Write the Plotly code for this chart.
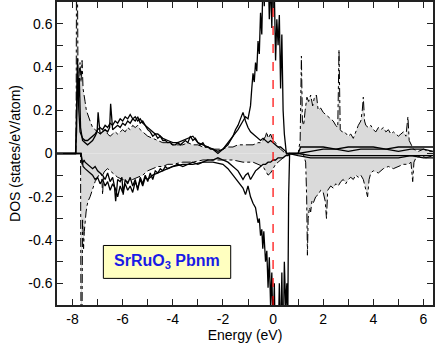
import plotly.graph_objects as go

# spin-up, gray filled (dash-dot outline)
e_fill_up = [-8.62, -7.86, -7.84, -7.81, -7.78, -7.74, -7.7, -7.66, -7.62, -7.58,
             -7.54, -7.5, -7.45, -7.4, -7.3, -7.2, -7.1, -7.0, -6.9, -6.8,
             -6.7, -6.6, -6.5, -6.4, -6.3, -6.2, -6.1, -6.0, -5.9, -5.8,
             -5.7, -5.6, -5.5, -5.4, -5.3, -5.2, -5.1, -5.0, -4.8, -4.6,
             -4.4, -4.2, -4.0, -3.8, -3.6, -3.4, -3.2, -3.0, -2.8, -2.6,
             -2.4, -2.2, -2.0, -1.8, -1.6, -1.4, -1.2, -1.0, -0.8, -0.6,
             -0.5, -0.4, -0.3, -0.25, -0.2, -0.1, 0.0, 0.1, 0.2, 0.3,
             0.4, 0.5, 0.55, 1.0, 1.08, 1.13, 1.17, 1.22, 1.28, 1.35,
             1.42, 1.5, 1.58, 1.65, 1.73, 1.8, 1.9, 2.0, 2.1, 2.2,
             2.3, 2.4, 2.5, 2.58, 2.63, 2.68, 2.75, 2.85, 3.0, 3.1,
             3.2, 3.3, 3.4, 3.5, 3.56, 3.6, 3.65, 3.7, 3.8, 3.9,
             4.0, 4.1, 4.2, 4.3, 4.4, 4.5, 4.6, 4.7, 4.8, 4.9,
             5.0, 5.1, 5.2, 5.3, 5.38, 5.43, 5.5, 5.6, 5.8, 6.0,
             6.2, 6.38]
dos_fill_up = [0, 0, 0.95, 0.95, 0.3, 0.36, 0.42, 0.33, 0.43, 0.3,
               0.26, 0.24, 0.2, 0.18, 0.15, 0.12, 0.11, 0.1, 0.09, 0.1,
               0.11, 0.09, 0.08, 0.09, 0.1, 0.09, 0.1, 0.11, 0.1, 0.12,
               0.11, 0.13, 0.12, 0.13, 0.11, 0.1, 0.09, 0.08, 0.07, 0.06,
               0.05, 0.05, 0.04, 0.04, 0.04, 0.05, 0.04, 0.04, 0.03, 0.03,
               0.02, 0.02, 0.02, 0.03, 0.03, 0.04, 0.04, 0.04, 0.04, 0.05,
               0.05, 0.06, 0.08, 0.1, 0.07, 0.09, 0.06, 0.05, 0.03, 0.02,
               0.01, 0.0, 0.0, 0.0, 0.06, 0.45, 0.15, 0.13, 0.2, 0.26,
               0.24, 0.27, 0.22, 0.26, 0.27, 0.2, 0.21, 0.19, 0.18, 0.17,
               0.16, 0.15, 0.13, 0.12, 0.48, 0.11, 0.1, 0.1, 0.08, 0.09,
               0.07, 0.1, 0.13, 0.15, 0.2, 0.26, 0.15, 0.13, 0.12, 0.13,
               0.11, 0.1, 0.12, 0.11, 0.12, 0.1, 0.11, 0.09, 0.1, 0.09,
               0.08, 0.09, 0.1, 0.08, 0.17, 0.06, 0.04, 0.02, 0.01, 0.02,
               0.01, 0.01]

# spin-down, gray filled (dash-dot outline)
e_fill_dn = [-8.62, -7.68, -7.66, -7.63, -7.6, -7.56, -7.53, -7.5, -7.46, -7.42,
             -7.38, -7.3, -7.2, -7.1, -7.0, -6.9, -6.84, -6.8, -6.76, -6.7,
             -6.6, -6.5, -6.4, -6.3, -6.2, -6.0, -5.8, -5.6, -5.4, -5.2,
             -5.0, -4.8, -4.6, -4.4, -4.2, -4.0, -3.6, -3.2, -2.8, -2.4,
             -2.0, -1.6, -1.2, -0.8, -0.6, -0.4, -0.3, -0.2, -0.1, 0.0,
             0.1, 0.2, 0.3, 0.4, 0.5, 0.6, 1.0, 1.2, 1.3, 1.34,
             1.37, 1.4, 1.45, 1.5, 1.55, 1.6, 1.7, 1.8, 1.9, 2.0,
             2.08, 2.13, 2.18, 2.3, 2.4, 2.5, 2.6, 2.7, 2.8, 2.9,
             3.0, 3.1, 3.2, 3.3, 3.4, 3.5, 3.6, 3.7, 3.77, 3.83,
             3.9, 4.0, 4.2, 4.4, 4.6, 4.8, 5.0, 5.2, 5.4, 5.5,
             5.57, 5.62, 5.7, 5.9, 6.1, 6.38]
dos_fill_dn = [0, 0, -0.95, -0.95, -0.3, -0.44, -0.36, -0.3, -0.27, -0.24,
               -0.22, -0.2, -0.16, -0.13, -0.11, -0.09, -0.1, -0.19, -0.09, -0.08,
               -0.07, -0.08, -0.09, -0.1, -0.11, -0.12, -0.13, -0.12, -0.11, -0.1,
               -0.08, -0.07, -0.06, -0.06, -0.05, -0.05, -0.04, -0.04, -0.03, -0.03,
               -0.03, -0.03, -0.04, -0.04, -0.05, -0.06, -0.08, -0.1, -0.09, -0.07,
               -0.05, -0.04, -0.03, -0.02, -0.01, 0.0, 0.0, 0.0, -0.04, -0.2,
               -0.47, -0.3, -0.25, -0.27, -0.22, -0.23, -0.2, -0.19, -0.17, -0.18,
               -0.22, -0.3, -0.17, -0.15, -0.16, -0.14, -0.15, -0.13, -0.12, -0.14,
               -0.12, -0.11, -0.12, -0.1, -0.11, -0.1, -0.12, -0.16, -0.2, -0.12,
               -0.09, -0.08, -0.09, -0.07, -0.06, -0.07, -0.06, -0.05, -0.05, -0.04,
               -0.13, -0.04, -0.02, -0.01, -0.02, -0.01]

# spin-up, black curve 1
e_o_up = [-8.62, -7.88, -7.84, -7.8, -7.77, -7.73, -7.68, -7.6, -7.5, -7.4,
          -7.3, -7.2, -7.1, -7.02, -6.98, -6.9, -6.8, -6.7, -6.6, -6.52,
          -6.48, -6.4, -6.3, -6.2, -6.1, -6.0, -5.9, -5.8, -5.7, -5.6,
          -5.5, -5.4, -5.3, -5.2, -5.1, -5.0, -4.9, -4.8, -4.7, -4.6,
          -4.5, -4.4, -4.3, -4.2, -4.1, -4.0, -3.9, -3.8, -3.7, -3.6,
          -3.5, -3.4, -3.3, -3.2, -3.1, -3.0, -2.9, -2.8, -2.7, -2.6,
          -2.5, -2.4, -2.3, -2.2, -2.1, -2.0, -1.9, -1.8, -1.7, -1.6,
          -1.5, -1.4, -1.3, -1.2, -1.1, -1.0, -0.9, -0.8, -0.7, -0.6,
          -0.5, -0.4, -0.3, -0.2, -0.1, 0.0, 0.1, 0.2, 0.3, 0.4,
          0.5, 0.55, 1.0, 1.5, 2.0, 2.5, 3.0, 3.5, 4.0, 4.5,
          5.0, 5.5, 6.0, 6.38]
dos_o_up = [0, 0, 0.2, 0.44, 0.25, 0.35, 0.12, 0.06, 0.05, 0.04,
            0.05, 0.06, 0.08, 0.1, 0.19, 0.09, 0.1, 0.11, 0.1, 0.12,
            0.23, 0.11, 0.12, 0.13, 0.12, 0.14, 0.13, 0.15, 0.14, 0.16,
            0.15, 0.17, 0.14, 0.15, 0.13, 0.11, 0.1, 0.08, 0.09, 0.07,
            0.08, 0.06, 0.06, 0.05, 0.05, 0.04, 0.04, 0.05, 0.04, 0.05,
            0.06, 0.05, 0.08, 0.06, 0.07, 0.05, 0.04, 0.05, 0.03, 0.03,
            0.02, 0.02, 0.01, 0.0, 0.01, 0.02, 0.03, 0.04, 0.06, 0.08,
            0.11, 0.13, 0.16, 0.19, 0.15, 0.12, 0.1, 0.09, 0.08, 0.07,
            0.06, 0.07, 0.06, 0.05, 0.06, 0.05, 0.04, 0.03, 0.03, 0.02,
            0.01, 0.0, 0.0, 0.01, 0.02, 0.02, 0.01, 0.02, 0.02, 0.02,
            0.01, 0.02, 0.02, 0.01]

# spin-up, black curve 2 (large near E_F)
e_ru_up = [-8.62, -7.88, -7.84, -7.8, -7.75, -7.7, -7.6, -7.5, -7.4, -7.3,
           -7.2, -7.1, -7.0, -6.9, -6.8, -6.7, -6.6, -6.5, -6.4, -6.3,
           -6.2, -6.1, -6.0, -5.9, -5.8, -5.7, -5.6, -5.5, -5.4, -5.3,
           -5.2, -5.1, -5.0, -4.9, -4.8, -4.7, -4.6, -4.5, -4.4, -4.2,
           -4.0, -3.8, -3.6, -3.4, -3.2, -3.0, -2.8, -2.6, -2.4, -2.2,
           -2.0, -1.8, -1.6, -1.4, -1.2, -1.1, -1.0, -0.9, -0.85, -0.8,
           -0.75, -0.7, -0.65, -0.6, -0.55, -0.5, -0.45, -0.4, -0.35, -0.3,
           -0.25, -0.2, -0.15, -0.1, -0.05, 0.0, 0.05, 0.1, 0.15, 0.2,
           0.25, 0.3, 0.35, 0.4, 0.45, 0.5, 0.53, 1.0, 1.1, 1.5,
           2.0, 2.5, 3.0, 3.5, 4.0, 4.5, 5.0, 5.5, 6.0, 6.38]
dos_ru_up = [0, 0, 0.1, 0.38, 0.2, 0.1, 0.07, 0.06, 0.06, 0.07,
             0.08, 0.09, 0.11, 0.12, 0.11, 0.13, 0.12, 0.14, 0.13, 0.15,
             0.14, 0.16, 0.15, 0.17, 0.16, 0.18, 0.16, 0.17, 0.15, 0.16,
             0.14, 0.13, 0.12, 0.11, 0.1, 0.09, 0.09, 0.08, 0.07, 0.06,
             0.05, 0.05, 0.06, 0.07, 0.08, 0.05, 0.04, 0.03, 0.02, 0.01,
             0.02, 0.05, 0.08, 0.11, 0.15, 0.17, 0.16, 0.22, 0.3, 0.37,
             0.33, 0.42, 0.38, 0.52, 0.46, 0.65, 0.55, 0.82, 0.68, 0.95,
             0.72, 0.88, 0.62, 0.8, 0.58, 0.92, 0.75, 0.43, 0.62, 0.5,
             0.64, 0.3, 0.55, 0.2, 0.09, 0.03, 0.0, 0.0, 0.03, 0.03,
             0.03, 0.02, 0.03, 0.03, 0.03, 0.02, 0.03, 0.03, 0.03, 0.03]

# spin-down, black curve 1
e_o_dn = [-8.62, -7.66, -7.62, -7.58, -7.54, -7.5, -7.4, -7.3, -7.2, -7.1,
          -7.0, -6.9, -6.8, -6.7, -6.6, -6.5, -6.4, -6.33, -6.28, -6.2,
          -6.1, -6.03, -5.98, -5.9, -5.8, -5.7, -5.6, -5.5, -5.4, -5.3,
          -5.2, -5.1, -5.0, -4.9, -4.8, -4.7, -4.6, -4.5, -4.4, -4.3,
          -4.2, -4.0, -3.8, -3.6, -3.4, -3.2, -3.0, -2.8, -2.6, -2.4,
          -2.2, -2.0, -1.8, -1.6, -1.4, -1.3, -1.2, -1.1, -1.0, -0.9,
          -0.8, -0.7, -0.6, -0.5, -0.4, -0.3, -0.2, -0.1, 0.0, 0.1,
          0.2, 0.3, 0.4, 0.5, 0.6, 0.65, 1.0, 1.5, 2.0, 2.5,
          3.0, 3.5, 4.0, 4.5, 5.0, 5.5, 6.0, 6.38]
dos_o_dn = [0, 0, -0.05, -0.04, -0.03, -0.04, -0.05, -0.06, -0.07, -0.06,
            -0.08, -0.09, -0.1, -0.12, -0.09, -0.13, -0.11, -0.15, -0.22, -0.12,
            -0.13, -0.11, -0.19, -0.12, -0.14, -0.11, -0.15, -0.12, -0.17, -0.11,
            -0.14, -0.1, -0.13, -0.09, -0.12, -0.08, -0.09, -0.07, -0.08, -0.06,
            -0.07, -0.06, -0.05, -0.06, -0.05, -0.04, -0.05, -0.04, -0.03, -0.03,
            -0.02, -0.03, -0.04, -0.06, -0.08, -0.1, -0.12, -0.1, -0.09, -0.12,
            -0.1, -0.08, -0.07, -0.06, -0.05, -0.05, -0.04, -0.04, -0.03, -0.03,
            -0.02, -0.02, -0.02, -0.01, -0.01, 0.0, -0.01, -0.02, -0.02, -0.02,
            -0.02, -0.02, -0.02, -0.02, -0.02, -0.01, -0.02, -0.02]

# spin-down, black curve 2 (large near E_F)
e_ru_dn = [-8.62, -7.66, -7.62, -7.58, -7.5, -7.4, -7.3, -7.2, -7.1, -7.0,
           -6.9, -6.8, -6.7, -6.6, -6.5, -6.4, -6.3, -6.2, -6.1, -6.0,
           -5.9, -5.8, -5.7, -5.6, -5.5, -5.4, -5.3, -5.2, -5.1, -5.0,
           -4.8, -4.6, -4.4, -4.2, -4.0, -3.6, -3.2, -2.8, -2.4, -2.0,
           -1.8, -1.6, -1.4, -1.2, -1.1, -1.0, -0.9, -0.8, -0.7, -0.6,
           -0.55, -0.5, -0.45, -0.41, -0.37, -0.3, -0.25, -0.2, -0.15, -0.1,
           -0.05, 0.0, 0.05, 0.1, 0.15, 0.2, 0.25, 0.3, 0.35, 0.4,
           0.45, 0.5, 0.55, 0.58, 0.62, 0.66, 1.0, 1.5, 2.0, 2.5,
           3.0, 3.5, 4.0, 4.5, 5.0, 5.5, 6.0, 6.38]
dos_ru_dn = [0, 0, -0.03, -0.06, -0.07, -0.08, -0.09, -0.1, -0.12, -0.11,
             -0.14, -0.12, -0.15, -0.13, -0.17, -0.14, -0.16, -0.2, -0.15, -0.18,
             -0.14, -0.17, -0.15, -0.18, -0.13, -0.16, -0.12, -0.15, -0.11, -0.12,
             -0.1, -0.09, -0.08, -0.07, -0.06, -0.05, -0.05, -0.04, -0.04, -0.05,
             -0.07, -0.1, -0.13, -0.16, -0.19, -0.15, -0.2, -0.23, -0.25, -0.32,
             -0.3, -0.38, -0.35, -0.44, -0.36, -0.5, -0.45, -0.62, -0.48, -0.7,
             -0.55, -0.85, -0.6, -0.95, -0.72, -0.9, -0.6, -0.88, -0.55, -0.95,
             -0.5, -0.7, -0.6, -0.9, -0.2, 0.0, 0.0, -0.01, -0.01, -0.01,
             -0.01, -0.01, -0.01, -0.01, -0.01, -0.01, -0.01, -0.01]

y_ticks = [-0.6, -0.4, -0.2, 0, 0.2, 0.4, 0.6]
y_labels = ["-0.6", "-0.4", "-0.2", "0", "0.2", "0.4", "0.6"]
x_ticks = [-8, -6, -4, -2, 0, 2, 4, 6]
x_labels = ["-8", "-6", "-4", "-2", "0", "2", "4", "6"]

fig = go.Figure()

for e, d in [(e_fill_up, dos_fill_up), (e_fill_dn, dos_fill_dn)]:
    fig.add_trace(go.Scatter(x=e, y=d, mode="lines", fill="tozeroy",
                             fillcolor="#dadada",
                             line=dict(color="black", width=1, dash="dashdot")))

for e, d in [(e_o_up, dos_o_up), (e_ru_up, dos_ru_up),
             (e_o_dn, dos_o_dn), (e_ru_dn, dos_ru_dn)]:
    fig.add_trace(go.Scatter(x=e, y=d, mode="lines",
                             line=dict(color="black", width=1.3)))

fig.add_vline(x=0, line=dict(color="red", width=1.2, dash="dash"))

fig.add_shape(type="rect", x0=-6.77, x1=-1.69, y0=-0.577, y1=-0.425,
              xref="x", yref="y", fillcolor="#ffffc0",
              line=dict(color="black", width=1))
fig.add_annotation(x=-4.23, y=-0.5, xref="x", yref="y",
                   text="<b>SrRuO<sub>3</sub> Pbnm</b>", showarrow=False,
                   font=dict(size=16, color="#1a1ae6"))

axis_common = dict(showline=True, linecolor="#222", linewidth=1.5, mirror="ticks",
                   ticks="inside", ticklen=6, tickcolor="#222", showgrid=False,
                   zeroline=False, automargin=False,
                   tickfont=dict(size=14, color="black"))

fig.update_xaxes(range=[-8.62, 6.38], tickvals=x_ticks, ticktext=x_labels,
                 minor=dict(dtick=1, tick0=0, ticks="inside", ticklen=6, tickcolor="#222"),
                 title=dict(text="Energy (eV)", font=dict(size=14, color="black"), standoff=2),
                 **axis_common)
fig.update_yaxes(range=[-0.7, 0.7], tickvals=y_ticks, ticktext=y_labels,
                 minor=dict(dtick=0.1, tick0=0, ticks="inside", ticklen=6, tickcolor="#222"),
                 title=dict(text="DOS (states/eV/atom)", font=dict(size=14, color="black"), standoff=4),
                 **axis_common)

fig.update_layout(width=436, height=347, showlegend=False,
                  margin=dict(l=57, r=3, t=2, b=42),
                  plot_bgcolor="white", paper_bgcolor="white",
                  font=dict(family="Liberation Sans, Arial, sans-serif"))

# page body has a default 8px margin; drop it so the figure fills the window
fig.write_html("out.html", config={"displayModeBar": False},
               post_script="document.body.style.margin='0';")
